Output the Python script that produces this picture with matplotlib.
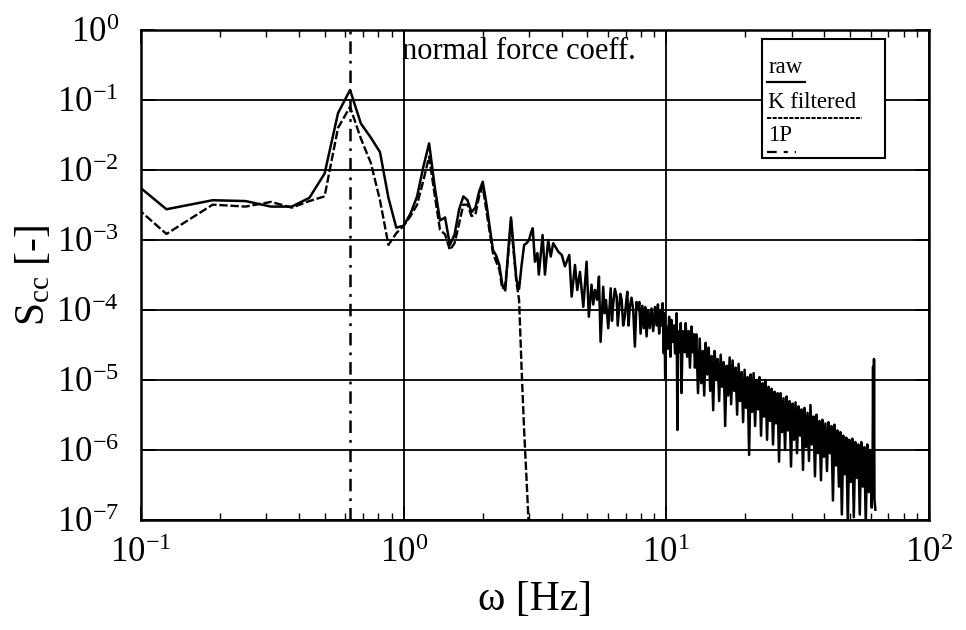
import matplotlib
matplotlib.use("Agg")
import matplotlib.pyplot as plt
from matplotlib.patches import Rectangle

plt.rcParams['font.family'] = 'Liberation Serif'
plt.rcParams['mathtext.fontset'] = 'custom'
plt.rcParams['mathtext.rm'] = 'Liberation Serif'
plt.rcParams['mathtext.it'] = 'Liberation Serif:italic'
plt.rcParams['lines.scale_dashes'] = False

# spectrum bins (0.0625 Hz resolution) up to 3 Hz, both signals
freq_bins = [0.0625, 0.125, 0.1875, 0.25, 0.3125, 0.375, 0.4375, 0.5,
             0.5625, 0.625, 0.6875, 0.75, 0.8125, 0.875, 0.9375, 1.0,
             1.0625, 1.125, 1.1875, 1.25, 1.3125, 1.375, 1.4375, 1.5,
             1.5625, 1.625, 1.6875, 1.75, 1.8125, 1.875, 1.9375, 2.0,
             2.0625, 2.125, 2.1875, 2.25, 2.3125, 2.375, 2.4375, 2.5,
             2.5625, 2.625, 2.6875, 2.75, 2.8125, 2.875, 2.9375, 3.0]
raw_bins = [2.35e-2, 2.75e-3, 3.7e-3, 3.6e-3, 3.0e-3, 3.0e-3, 4.0e-3, 8.9e-3,
            6.5e-2, 1.39e-1, 4.6e-2, 2.9e-2, 1.8e-2, 4.0e-3, 1.5e-3, 1.6e-3,
            2.4e-3, 4.2e-3, 1.1e-2, 2.4e-2, 5.8e-3, 1.9e-3, 2.1e-3, 8.5e-4,
            1.2e-3, 2.7e-3, 4.2e-3, 3.7e-3, 2.5e-3, 2.9e-3, 4.9e-3, 6.8e-3,
            3.4e-3, 1.55e-3, 7.2e-4, 6.0e-4, 4.4e-4, 2.3e-4, 1.9e-4, 7.0e-4,
            2.1e-3, 7.2e-4, 2.7e-4, 2.0e-4, 4.4e-4, 8.5e-4, 9.0e-4, 1.0e-3]
kf_bins = [1.2e-2, 1.22e-3, 3.2e-3, 3.0e-3, 3.5e-3, 2.9e-3, 3.6e-3, 4.2e-3,
           4.0e-2, 8.0e-2, 2.8e-2, 1.26e-2, 3.7e-3, 8.5e-4, 1.25e-3, 1.6e-3,
           2.2e-3, 3.2e-3, 7.0e-3, 1.55e-2, 4.4e-3, 1.4e-3, 1.2e-3, 7.2e-4,
           9.0e-4, 1.7e-3, 3.2e-3, 3.2e-3, 2.2e-3, 2.3e-3, 4.2e-3, 5.8e-3,
           2.7e-3, 1.3e-3, 6.5e-4, 4.9e-4, 3.8e-4, 2.0e-4, 2.3e-4, 6.0e-4,
           1.9e-3, 6.5e-4, 2.5e-4, 1.4e-4, 1.4e-5, 1.9e-6, 3.7e-7, 7.0e-8]

# raw signal, 3 - 13.4 Hz
freq_mid = [3.06, 3.10, 3.16, 3.23, 3.27, 3.38, 3.45, 3.55, 3.63, 3.71,
            3.88, 4.00, 4.11, 4.27, 4.36, 4.49, 4.58, 4.69, 4.83, 4.97,
            5.07, 5.19, 5.27, 5.35, 5.45, 5.54, 5.62, 5.75, 5.82, 5.89,
            6.01, 6.14, 6.21, 6.28, 6.37, 6.47, 6.53, 6.60, 6.68, 6.76,
            6.85, 6.95, 7.02, 7.10, 7.18, 7.26, 7.37, 7.48, 7.59, 7.70,
            7.81, 7.89, 7.98, 8.10, 8.21, 8.31, 8.41, 8.53, 8.65, 8.78,
            8.91, 9.05, 9.18, 9.29, 9.39, 9.49, 9.59, 9.68, 9.78, 9.84,
            9.90, 10.0, 10.12, 10.25, 10.36, 10.47, 10.58, 10.68, 10.80, 10.94,
            11.02, 11.10, 11.25, 11.35, 11.42, 11.55, 11.75, 11.85, 12.00, 12.15,
            12.30, 12.47, 12.60, 12.73, 12.85, 13.00, 13.20]
raw_mid = [1.3e-3, 1.47e-3, 4.9e-4, 6.5e-4, 3.2e-4, 1.18e-3, 3.2e-4, 1.0e-3, 5.8e-4, 9.0e-4,
           6.8e-4, 6.1e-4, 4.2e-4, 6.1e-4, 1.55e-4, 4.4e-4, 1.93e-4, 3.5e-4, 1.11e-4, 4.9e-4,
           8.0e-5, 2.3e-4, 1.2e-4, 1.93e-4, 1.4e-4, 3.0e-4, 3.5e-5, 2.15e-4, 9.0e-5, 1.39e-4,
           5.5e-5, 2.04e-4, 7.0e-5, 1.25e-4, 2.0e-4, 1.55e-4, 6.0e-5, 1.0e-4, 1.7e-4, 1.39e-4,
           6.0e-5, 8.0e-5, 1.2e-4, 1.82e-4, 6.0e-5, 1.11e-4, 1.5e-4, 1.0e-4, 3.0e-5, 1.3e-4,
           1.0e-4, 1.3e-4, 4.6e-5, 1.15e-4, 5.5e-5, 1.1e-4, 4.2e-5, 1.0e-4, 5.5e-5, 1.05e-4,
           5.0e-5, 1.1e-4, 6.0e-5, 1.2e-4, 4.6e-5, 1.0e-4, 6.0e-5, 1.25e-4, 2.4e-5, 9.0e-5,
           1.0e-5, 5.8e-5, 2.8e-5, 8.0e-5, 2.15e-5, 7.2e-5, 3.5e-5, 6.0e-5, 2.4e-5, 9.0e-5,
           1.93e-6, 5.0e-5, 2.5e-5, 6.5e-5, 6.5e-6, 5.0e-5, 2.5e-5, 6.5e-5, 2.15e-5, 5.0e-5,
           1.5e-5, 5.8e-5, 2.5e-5, 4.5e-5, 1.5e-5, 4.5e-5, 6.5e-6]

# raw signal, 13.4 Hz up to the end of the record
freq_top = [13.40, 13.58, 13.76, 13.94, 14.12, 14.31, 14.50, 14.69, 14.88, 15.08,
            15.28, 15.48, 15.68, 15.89, 16.10, 16.31, 16.53, 16.75, 16.97, 17.19,
            17.42, 17.65, 17.88, 18.12, 18.36, 18.60, 18.84, 19.09, 19.35, 19.60,
            19.86, 20.12, 20.39, 20.66, 20.93, 21.21, 21.49, 21.77, 22.06, 22.35,
            22.64, 22.94, 23.25, 23.55, 23.86, 24.18, 24.50, 24.82, 25.15, 25.48,
            25.82, 26.16, 26.51, 26.86, 27.21, 27.57, 27.94, 28.31, 28.68, 29.06,
            29.44, 29.83, 30.23, 30.63, 31.03, 31.44, 31.86, 32.28, 32.70, 33.14,
            33.57, 34.02, 34.47, 34.92, 35.38, 35.85, 36.32, 36.80, 37.29, 37.78,
            38.28, 38.79, 39.30, 39.82, 40.34, 40.88, 41.42, 41.96, 42.52, 43.08,
            43.65, 44.23, 44.81, 45.40, 45.97, 46.58, 47.19, 47.81, 48.44, 49.08,
            49.73, 50.39, 51.05, 51.73, 52.41, 53.10, 53.80, 54.51, 55.23, 55.96,
            56.70, 57.45, 58.21, 58.98, 59.75, 60.54, 61.00, 61.25, 61.50, 61.75,
            62.00, 62.50]
raw_top = [3.9e-5, 9.0e-6, 2.6e-5, 6.0e-6, 3.4e-5, 1.2e-5, 2.9e-5, 7.0e-6, 2.2e-5, 3.7e-6,
           2.6e-5, 1.0e-5, 2.0e-5, 5.0e-6, 2.3e-5, 8.0e-6, 1.8e-5, 2.2e-6, 1.6e-5, 6.0e-6,
           2.1e-5, 4.5e-6, 1.9e-5, 7.0e-6, 1.5e-5, 3.2e-6, 1.7e-5, 5.0e-6, 1.3e-5, 2.5e-6,
           1.4e-5, 4.0e-6, 1.1e-5, 8.5e-7, 1.2e-5, 3.5e-6, 1.25e-5, 2.2e-6, 1.0e-5, 3.8e-6,
           1.1e-5, 1.6e-6, 9.0e-6, 3.0e-6, 1.0e-5, 1.4e-6, 8.0e-6, 2.6e-6, 7.5e-6, 1.2e-6,
           6.8e-6, 2.4e-6, 6.5e-6, 6.8e-7, 6.5e-6, 1.8e-6, 5.5e-6, 1.0e-6, 5.8e-6, 1.9e-6,
           5.0e-6, 5.8e-7, 4.6e-6, 1.4e-6, 4.8e-6, 9.0e-7, 4.2e-6, 1.6e-6, 3.8e-6, 5.2e-7,
           4.0e-6, 1.1e-6, 3.4e-6, 7.0e-7, 4.4e-6, 1.2e-6, 3.0e-6, 4.2e-7, 3.2e-6, 9.0e-7,
           2.6e-6, 3.7e-7, 2.7e-6, 8.0e-7, 2.4e-6, 5.0e-7, 2.5e-6, 9.0e-7, 2.2e-6, 1.9e-7,
           2.3e-6, 6.0e-7, 1.9e-6, 3.0e-7, 1.8e-6, 1.2e-7, 1.6e-6, 4.5e-7, 1.5e-6, 9.0e-8,
           1.4e-6, 3.5e-7, 1.45e-6, 1.1e-7, 1.3e-6, 4.0e-7, 1.2e-6, 1.2e-7, 1.3e-6, 3.0e-7,
           1.1e-6, 9.0e-8, 1.2e-6, 2.5e-7, 1.0e-6, 1.5e-7, 7.0e-7, 1.55e-5, 2.5e-7, 2.0e-5,
           2.0e-7, 1.4e-7]

f_1p = 0.625  # rotor 1P frequency

freq_raw = freq_bins + freq_mid + freq_top
s_raw = raw_bins + raw_mid + raw_top

fig = plt.figure(figsize=(9.66, 6.3), dpi=100)
ax = fig.add_axes([141 / 966, 110 / 630, 788 / 966, 490 / 630])

ax.plot(freq_raw, s_raw, color='black', lw=1.8)
ax.plot(freq_bins, kf_bins, color='black', lw=1.7, dashes=(6, 2))
ax.axvline(f_1p, color='black', lw=1.8, dashes=(9, 5, 2, 5))

ax.set_xscale('log')
ax.set_yscale('log')
ax.set_xlim(0.1, 100)
ax.set_ylim(1e-7, 1)
ax.set_yticks([1e-7, 1e-6, 1e-5, 1e-4, 1e-3, 1e-2, 1e-1, 1])

ax.grid(True, which='major', color='black', lw=1.3)
ax.set_axisbelow(True)
ax.tick_params(which='both', direction='in', top=True, right=True,
               labelsize=25, color='black')
ax.tick_params(which='major', length=10, width=1.3, pad=12)
ax.tick_params(which='minor', length=5, width=1.0)
ax.tick_params(axis='y', which='major', pad=16)
for sp in ax.spines.values():
    sp.set_linewidth(1.8)

ax.set_xlabel('ω [Hz]', fontsize=30, labelpad=8)
ax.set_ylabel(r'S$_{\mathregular{cc}}$ [-]', fontsize=30, labelpad=2)

ax.text(0.331, 0.985, 'normal force coeff.', transform=ax.transAxes,
        fontsize=22, ha='left', va='top')

# legend: labels with their line sample drawn underneath
ax.add_patch(Rectangle((0.788, 0.739), 0.156, 0.243, transform=ax.transAxes,
                       facecolor='white', edgecolor='black', lw=1.5, zorder=5))
ax.text(0.796, 0.924, 'raw', transform=ax.transAxes, fontsize=16.5,
        ha='left', va='center', zorder=6)
ax.plot([0.794, 0.843], [0.894, 0.894], transform=ax.transAxes,
        color='black', lw=1.6, zorder=6)
ax.text(0.796, 0.853, 'K filtered', transform=ax.transAxes, fontsize=16.5,
        ha='left', va='center', zorder=6)
ax.plot([0.794, 0.915], [0.820, 0.820], transform=ax.transAxes,
        color='black', lw=1.4, dashes=(3, 1), zorder=6)
ax.text(0.796, 0.784, '1P', transform=ax.transAxes, fontsize=16.5,
        ha='left', va='center', zorder=6)
ax.plot([0.794, 0.831], [0.751, 0.751], transform=ax.transAxes,
        color='black', lw=1.6, dashes=(7, 5, 3, 5), zorder=6)

fig.savefig('out.png', dpi=100)
